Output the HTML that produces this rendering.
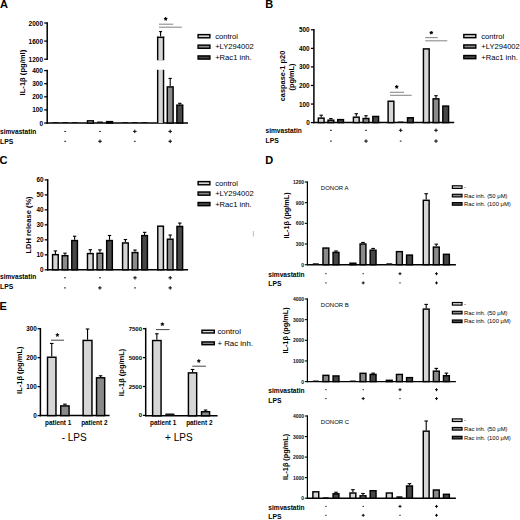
<!DOCTYPE html>
<html><head><meta charset="utf-8"><style>
html,body{margin:0;padding:0;background:#fff;width:520px;height:520px;overflow:hidden}
svg{display:block;font-family:"Liberation Sans", sans-serif}

</style></head><body>
<div id="w"><svg width="520" height="520" viewBox="0 0 520 520">
<rect width="520" height="520" fill="#fff"/>
<text x="0.1" y="8.4" font-size="11" font-weight="bold" fill="#000">A</text>
<line x1="47.2" y1="22.25" x2="47.2" y2="59.95" stroke="#000" stroke-width="1.5"/>
<line x1="44.2" y1="23" x2="47.2" y2="23" stroke="#000" stroke-width="1.27"/>
<text x="43" y="23" font-size="6.5" font-weight="bold" text-anchor="end" fill="#000" dominant-baseline="central">2000</text>
<line x1="44.2" y1="41.1" x2="47.2" y2="41.1" stroke="#000" stroke-width="1.27"/>
<text x="43" y="41.1" font-size="6.5" font-weight="bold" text-anchor="end" fill="#000" dominant-baseline="central">1600</text>
<line x1="44.2" y1="59.2" x2="47.2" y2="59.2" stroke="#000" stroke-width="1.27"/>
<text x="43" y="59.2" font-size="6.5" font-weight="bold" text-anchor="end" fill="#000" dominant-baseline="central">1200</text>
<line x1="47.2" y1="69.85" x2="47.2" y2="123.75" stroke="#000" stroke-width="1.5"/>
<line x1="44.2" y1="70.6" x2="47.2" y2="70.6" stroke="#000" stroke-width="1.27"/>
<text x="43" y="70.6" font-size="6.5" font-weight="bold" text-anchor="end" fill="#000" dominant-baseline="central">400</text>
<line x1="44.2" y1="83.7" x2="47.2" y2="83.7" stroke="#000" stroke-width="1.27"/>
<text x="43" y="83.7" font-size="6.5" font-weight="bold" text-anchor="end" fill="#000" dominant-baseline="central">300</text>
<line x1="44.2" y1="96.8" x2="47.2" y2="96.8" stroke="#000" stroke-width="1.27"/>
<text x="43" y="96.8" font-size="6.5" font-weight="bold" text-anchor="end" fill="#000" dominant-baseline="central">200</text>
<line x1="44.2" y1="109.9" x2="47.2" y2="109.9" stroke="#000" stroke-width="1.27"/>
<text x="43" y="109.9" font-size="6.5" font-weight="bold" text-anchor="end" fill="#000" dominant-baseline="central">100</text>
<line x1="44.2" y1="123" x2="47.2" y2="123" stroke="#000" stroke-width="1.27"/>
<text x="43" y="123" font-size="6.5" font-weight="bold" text-anchor="end" fill="#000" dominant-baseline="central">0</text>
<line x1="46.45" y1="123" x2="188" y2="123" stroke="#000" stroke-width="1.5"/>
<text transform="translate(22.7,72.6) rotate(-90)" font-size="7.6" font-weight="bold" text-anchor="middle" fill="#000" dominant-baseline="central">IL-1β (pg/ml)</text>
<rect x="52.45" y="122" width="6.3" height="1" rx="0.8" fill="#111"/>
<rect x="62.05" y="122" width="6.3" height="1" rx="0.8" fill="#111"/>
<rect x="71.65" y="122" width="6.3" height="1" rx="0.8" fill="#111"/>
<rect x="87.47" y="120.84" width="5.85" height="2.16" fill="#d6d6d6" stroke="#000" stroke-width="1.45"/>
<rect x="96.85" y="121.39" width="6.3" height="1.61" rx="0.8" fill="#111"/>
<rect x="106.67" y="121.63" width="5.85" height="1.37" fill="#474747" stroke="#000" stroke-width="1.45"/>
<rect x="122.05" y="122" width="6.3" height="1" rx="0.8" fill="#111"/>
<rect x="131.65" y="122" width="6.3" height="1" rx="0.8" fill="#111"/>
<rect x="141.25" y="122" width="6.3" height="1" rx="0.8" fill="#111"/>
<line x1="160.6" y1="36.6" x2="160.6" y2="31.6" stroke="#000" stroke-width="1.1"/>
<line x1="159.1" y1="31.6" x2="162.1" y2="31.6" stroke="#000" stroke-width="1.1"/>
<rect x="157.67" y="37.33" width="5.85" height="23.6" fill="#d6d6d6"/>
<rect x="157.67" y="69.8" width="5.85" height="53.2" fill="#d6d6d6"/>
<line x1="157.67" y1="36.6" x2="157.67" y2="60.2" stroke="#000" stroke-width="1.45"/>
<line x1="163.53" y1="36.6" x2="163.53" y2="60.2" stroke="#000" stroke-width="1.45"/>
<line x1="157.67" y1="69.8" x2="157.67" y2="123" stroke="#000" stroke-width="1.45"/>
<line x1="163.53" y1="69.8" x2="163.53" y2="123" stroke="#000" stroke-width="1.45"/>
<line x1="156.95" y1="37.33" x2="164.25" y2="37.33" stroke="#000" stroke-width="1.45"/>
<line x1="170.2" y1="86.2" x2="170.2" y2="78.4" stroke="#000" stroke-width="1.1"/>
<line x1="168.5" y1="78.4" x2="171.9" y2="78.4" stroke="#000" stroke-width="1.1"/>
<rect x="167.27" y="86.92" width="5.85" height="36.07" fill="#8a8a8a" stroke="#000" stroke-width="1.45"/>
<line x1="179.8" y1="104.4" x2="179.8" y2="103.3" stroke="#000" stroke-width="1.1"/>
<line x1="178.1" y1="103.3" x2="181.5" y2="103.3" stroke="#000" stroke-width="1.1"/>
<rect x="176.87" y="105.12" width="5.85" height="17.87" fill="#474747" stroke="#000" stroke-width="1.45"/>
<line x1="159" y1="24.2" x2="173.2" y2="24.2" stroke="#8c8c8c" stroke-width="1.1"/>
<line x1="159" y1="27.2" x2="181.8" y2="27.2" stroke="#8c8c8c" stroke-width="1.1"/>
<line x1="165.7" y1="18.9" x2="165.7" y2="17.1" stroke="#000" stroke-width="1.1"/>
<line x1="165.7" y1="18.9" x2="167.41" y2="18.34" stroke="#000" stroke-width="1.1"/>
<line x1="165.7" y1="18.9" x2="166.76" y2="20.36" stroke="#000" stroke-width="1.1"/>
<line x1="165.7" y1="18.9" x2="164.64" y2="20.36" stroke="#000" stroke-width="1.1"/>
<line x1="165.7" y1="18.9" x2="163.99" y2="18.34" stroke="#000" stroke-width="1.1"/>
<rect x="198.12" y="34.63" width="11.75" height="3.15" fill="#d6d6d6" stroke="#000" stroke-width="1.45"/>
<text x="215.2" y="36.2" font-size="7.6" font-weight="normal" text-anchor="start" fill="#000" dominant-baseline="central">control</text>
<rect x="198.12" y="45.13" width="11.75" height="3.15" fill="#8a8a8a" stroke="#000" stroke-width="1.45"/>
<text x="215.2" y="46.7" font-size="7.6" font-weight="normal" text-anchor="start" fill="#000" dominant-baseline="central">+LY294002</text>
<rect x="198.12" y="55.93" width="11.75" height="3.15" fill="#474747" stroke="#000" stroke-width="1.45"/>
<text x="215.2" y="57.5" font-size="7.6" font-weight="normal" text-anchor="start" fill="#000" dominant-baseline="central">+Rac1 inh.</text>
<text x="0" y="131.2" font-size="6.6" font-weight="bold" text-anchor="start" fill="#000" dominant-baseline="central">simvastatin</text>
<text x="0" y="141.2" font-size="6.8" font-weight="bold" text-anchor="start" fill="#000" dominant-baseline="central">LPS</text>
<line x1="64.3" y1="131.4" x2="66.1" y2="131.4" stroke="#000" stroke-width="0.9"/>
<line x1="64.3" y1="141.3" x2="66.1" y2="141.3" stroke="#000" stroke-width="0.9"/>
<line x1="99.1" y1="131.4" x2="100.9" y2="131.4" stroke="#000" stroke-width="0.9"/>
<line x1="98.2" y1="141.3" x2="101.8" y2="141.3" stroke="#000" stroke-width="0.95"/>
<line x1="100" y1="139.5" x2="100" y2="143.1" stroke="#000" stroke-width="0.95"/>
<line x1="133" y1="131.4" x2="136.6" y2="131.4" stroke="#000" stroke-width="0.95"/>
<line x1="134.8" y1="129.6" x2="134.8" y2="133.2" stroke="#000" stroke-width="0.95"/>
<line x1="133.9" y1="141.3" x2="135.7" y2="141.3" stroke="#000" stroke-width="0.9"/>
<line x1="168.4" y1="131.4" x2="172" y2="131.4" stroke="#000" stroke-width="0.95"/>
<line x1="170.2" y1="129.6" x2="170.2" y2="133.2" stroke="#000" stroke-width="0.95"/>
<line x1="168.4" y1="141.3" x2="172" y2="141.3" stroke="#000" stroke-width="0.95"/>
<line x1="170.2" y1="139.5" x2="170.2" y2="143.1" stroke="#000" stroke-width="0.95"/>
<text x="265.3" y="8.4" font-size="11" font-weight="bold" fill="#000">B</text>
<line x1="313.9" y1="29.05" x2="313.9" y2="123.35" stroke="#000" stroke-width="1.5"/>
<line x1="310.9" y1="29.8" x2="313.9" y2="29.8" stroke="#000" stroke-width="1.27"/>
<text x="309.7" y="29.8" font-size="6.4" font-weight="bold" text-anchor="end" fill="#000" dominant-baseline="central">500</text>
<line x1="310.9" y1="48.36" x2="313.9" y2="48.36" stroke="#000" stroke-width="1.27"/>
<text x="309.7" y="48.36" font-size="6.4" font-weight="bold" text-anchor="end" fill="#000" dominant-baseline="central">400</text>
<line x1="310.9" y1="66.92" x2="313.9" y2="66.92" stroke="#000" stroke-width="1.27"/>
<text x="309.7" y="66.92" font-size="6.4" font-weight="bold" text-anchor="end" fill="#000" dominant-baseline="central">300</text>
<line x1="310.9" y1="85.48" x2="313.9" y2="85.48" stroke="#000" stroke-width="1.27"/>
<text x="309.7" y="85.48" font-size="6.4" font-weight="bold" text-anchor="end" fill="#000" dominant-baseline="central">200</text>
<line x1="310.9" y1="104.04" x2="313.9" y2="104.04" stroke="#000" stroke-width="1.27"/>
<text x="309.7" y="104.04" font-size="6.4" font-weight="bold" text-anchor="end" fill="#000" dominant-baseline="central">100</text>
<line x1="310.9" y1="122.6" x2="313.9" y2="122.6" stroke="#000" stroke-width="1.27"/>
<text x="309.7" y="122.6" font-size="6.4" font-weight="bold" text-anchor="end" fill="#000" dominant-baseline="central">0</text>
<line x1="313.15" y1="122.6" x2="454.2" y2="122.6" stroke="#000" stroke-width="1.5"/>
<text transform="translate(282.4,76) rotate(-90)" font-size="7.4" font-weight="bold" text-anchor="middle" fill="#000" dominant-baseline="central">caspase-1 p20</text>
<text transform="translate(291.7,77) rotate(-90)" font-size="7.4" font-weight="bold" text-anchor="middle" fill="#000" dominant-baseline="central">(pg/mL)</text>
<line x1="321.2" y1="117.4" x2="321.2" y2="115.18" stroke="#000" stroke-width="1.1"/>
<line x1="319.5" y1="115.18" x2="322.9" y2="115.18" stroke="#000" stroke-width="1.1"/>
<rect x="318.32" y="118.13" width="5.75" height="4.47" fill="#d6d6d6" stroke="#000" stroke-width="1.45"/>
<line x1="330.9" y1="119.44" x2="330.9" y2="118.52" stroke="#000" stroke-width="1.1"/>
<line x1="329.2" y1="118.52" x2="332.6" y2="118.52" stroke="#000" stroke-width="1.1"/>
<rect x="328.02" y="120.17" width="5.75" height="2.43" fill="#8a8a8a" stroke="#000" stroke-width="1.45"/>
<rect x="337.72" y="119.61" width="5.75" height="2.99" fill="#474747" stroke="#000" stroke-width="1.45"/>
<line x1="356.3" y1="116.48" x2="356.3" y2="113.69" stroke="#000" stroke-width="1.1"/>
<line x1="354.6" y1="113.69" x2="358" y2="113.69" stroke="#000" stroke-width="1.1"/>
<rect x="353.43" y="117.2" width="5.75" height="5.4" fill="#d6d6d6" stroke="#000" stroke-width="1.45"/>
<line x1="366" y1="117.77" x2="366" y2="115.73" stroke="#000" stroke-width="1.1"/>
<line x1="364.3" y1="115.73" x2="367.7" y2="115.73" stroke="#000" stroke-width="1.1"/>
<rect x="363.12" y="118.5" width="5.75" height="4.1" fill="#8a8a8a" stroke="#000" stroke-width="1.45"/>
<rect x="372.82" y="116.46" width="5.75" height="6.14" fill="#474747" stroke="#000" stroke-width="1.45"/>
<rect x="388.12" y="101.24" width="5.75" height="21.36" fill="#d6d6d6" stroke="#000" stroke-width="1.45"/>
<rect x="397.6" y="121.6" width="6.2" height="1" rx="0.8" fill="#111"/>
<rect x="407.52" y="117.76" width="5.75" height="4.84" fill="#474747" stroke="#000" stroke-width="1.45"/>
<rect x="423.43" y="48.9" width="5.75" height="73.7" fill="#d6d6d6" stroke="#000" stroke-width="1.45"/>
<line x1="436" y1="98.1" x2="436" y2="95.69" stroke="#000" stroke-width="1.1"/>
<line x1="434.3" y1="95.69" x2="437.7" y2="95.69" stroke="#000" stroke-width="1.1"/>
<rect x="433.12" y="98.83" width="5.75" height="23.77" fill="#8a8a8a" stroke="#000" stroke-width="1.45"/>
<rect x="442.82" y="106.06" width="5.75" height="16.54" fill="#474747" stroke="#000" stroke-width="1.45"/>
<line x1="390" y1="92.3" x2="404" y2="92.3" stroke="#8c8c8c" stroke-width="1.1"/>
<line x1="390" y1="95.3" x2="411.7" y2="95.3" stroke="#8c8c8c" stroke-width="1.1"/>
<line x1="396.7" y1="86.9" x2="396.7" y2="85.1" stroke="#000" stroke-width="1.1"/>
<line x1="396.7" y1="86.9" x2="398.41" y2="86.34" stroke="#000" stroke-width="1.1"/>
<line x1="396.7" y1="86.9" x2="397.76" y2="88.36" stroke="#000" stroke-width="1.1"/>
<line x1="396.7" y1="86.9" x2="395.64" y2="88.36" stroke="#000" stroke-width="1.1"/>
<line x1="396.7" y1="86.9" x2="394.99" y2="86.34" stroke="#000" stroke-width="1.1"/>
<line x1="425.2" y1="37.6" x2="437.7" y2="37.6" stroke="#8c8c8c" stroke-width="1.1"/>
<line x1="425.2" y1="40.8" x2="447.3" y2="40.8" stroke="#8c8c8c" stroke-width="1.1"/>
<line x1="431.3" y1="32.7" x2="431.3" y2="30.9" stroke="#000" stroke-width="1.1"/>
<line x1="431.3" y1="32.7" x2="433.01" y2="32.14" stroke="#000" stroke-width="1.1"/>
<line x1="431.3" y1="32.7" x2="432.36" y2="34.16" stroke="#000" stroke-width="1.1"/>
<line x1="431.3" y1="32.7" x2="430.24" y2="34.16" stroke="#000" stroke-width="1.1"/>
<line x1="431.3" y1="32.7" x2="429.59" y2="32.14" stroke="#000" stroke-width="1.1"/>
<rect x="463.83" y="34.53" width="11.95" height="3.15" fill="#d6d6d6" stroke="#000" stroke-width="1.45"/>
<text x="481.3" y="36.1" font-size="7.6" font-weight="normal" text-anchor="start" fill="#000" dominant-baseline="central">control</text>
<rect x="463.83" y="44.93" width="11.95" height="3.15" fill="#8a8a8a" stroke="#000" stroke-width="1.45"/>
<text x="481.3" y="46.5" font-size="7.6" font-weight="normal" text-anchor="start" fill="#000" dominant-baseline="central">+LY294002</text>
<rect x="463.83" y="55.53" width="11.95" height="3.15" fill="#474747" stroke="#000" stroke-width="1.45"/>
<text x="481.3" y="57.1" font-size="7.6" font-weight="normal" text-anchor="start" fill="#000" dominant-baseline="central">+Rac1 inh.</text>
<text x="265.5" y="130.2" font-size="6.6" font-weight="bold" text-anchor="start" fill="#000" dominant-baseline="central">simvastatin</text>
<text x="265.5" y="140.8" font-size="6.8" font-weight="bold" text-anchor="start" fill="#000" dominant-baseline="central">LPS</text>
<line x1="330" y1="130.3" x2="331.8" y2="130.3" stroke="#000" stroke-width="0.9"/>
<line x1="330" y1="141.1" x2="331.8" y2="141.1" stroke="#000" stroke-width="0.9"/>
<line x1="365.1" y1="130.3" x2="366.9" y2="130.3" stroke="#000" stroke-width="0.9"/>
<line x1="364.2" y1="141.1" x2="367.8" y2="141.1" stroke="#000" stroke-width="0.95"/>
<line x1="366" y1="139.3" x2="366" y2="142.9" stroke="#000" stroke-width="0.95"/>
<line x1="398.9" y1="130.3" x2="402.5" y2="130.3" stroke="#000" stroke-width="0.95"/>
<line x1="400.7" y1="128.5" x2="400.7" y2="132.1" stroke="#000" stroke-width="0.95"/>
<line x1="399.8" y1="141.1" x2="401.6" y2="141.1" stroke="#000" stroke-width="0.9"/>
<line x1="434.2" y1="130.3" x2="437.8" y2="130.3" stroke="#000" stroke-width="0.95"/>
<line x1="436" y1="128.5" x2="436" y2="132.1" stroke="#000" stroke-width="0.95"/>
<line x1="434.2" y1="141.1" x2="437.8" y2="141.1" stroke="#000" stroke-width="0.95"/>
<line x1="436" y1="139.3" x2="436" y2="142.9" stroke="#000" stroke-width="0.95"/>
<text x="-0.5" y="163.8" font-size="11" font-weight="bold" fill="#000">C</text>
<line x1="47.7" y1="179.15" x2="47.7" y2="270.55" stroke="#000" stroke-width="1.5"/>
<line x1="44.7" y1="179.9" x2="47.7" y2="179.9" stroke="#000" stroke-width="1.27"/>
<text x="43.5" y="179.9" font-size="6.4" font-weight="bold" text-anchor="end" fill="#000" dominant-baseline="central">60</text>
<line x1="44.7" y1="194.89" x2="47.7" y2="194.89" stroke="#000" stroke-width="1.27"/>
<text x="43.5" y="194.89" font-size="6.4" font-weight="bold" text-anchor="end" fill="#000" dominant-baseline="central">50</text>
<line x1="44.7" y1="209.87" x2="47.7" y2="209.87" stroke="#000" stroke-width="1.27"/>
<text x="43.5" y="209.87" font-size="6.4" font-weight="bold" text-anchor="end" fill="#000" dominant-baseline="central">40</text>
<line x1="44.7" y1="224.85" x2="47.7" y2="224.85" stroke="#000" stroke-width="1.27"/>
<text x="43.5" y="224.85" font-size="6.4" font-weight="bold" text-anchor="end" fill="#000" dominant-baseline="central">30</text>
<line x1="44.7" y1="239.83" x2="47.7" y2="239.83" stroke="#000" stroke-width="1.27"/>
<text x="43.5" y="239.83" font-size="6.4" font-weight="bold" text-anchor="end" fill="#000" dominant-baseline="central">20</text>
<line x1="44.7" y1="254.82" x2="47.7" y2="254.82" stroke="#000" stroke-width="1.27"/>
<text x="43.5" y="254.82" font-size="6.4" font-weight="bold" text-anchor="end" fill="#000" dominant-baseline="central">10</text>
<line x1="44.7" y1="269.8" x2="47.7" y2="269.8" stroke="#000" stroke-width="1.27"/>
<text x="43.5" y="269.8" font-size="6.4" font-weight="bold" text-anchor="end" fill="#000" dominant-baseline="central">0</text>
<line x1="46.95" y1="269.8" x2="188.1" y2="269.8" stroke="#000" stroke-width="1.5"/>
<text transform="translate(28.5,225) rotate(-90)" font-size="7.5" font-weight="bold" text-anchor="middle" fill="#000" dominant-baseline="central">LDH release (%)</text>
<line x1="55.4" y1="253.92" x2="55.4" y2="250.92" stroke="#000" stroke-width="1.1"/>
<line x1="53.7" y1="250.92" x2="57.1" y2="250.92" stroke="#000" stroke-width="1.1"/>
<rect x="52.58" y="254.64" width="5.65" height="15.16" fill="#d6d6d6" stroke="#000" stroke-width="1.45"/>
<line x1="65" y1="254.97" x2="65" y2="253.17" stroke="#000" stroke-width="1.1"/>
<line x1="63.3" y1="253.17" x2="66.7" y2="253.17" stroke="#000" stroke-width="1.1"/>
<rect x="62.18" y="255.69" width="5.65" height="14.11" fill="#8a8a8a" stroke="#000" stroke-width="1.45"/>
<line x1="74.6" y1="239.83" x2="74.6" y2="236.24" stroke="#000" stroke-width="1.1"/>
<line x1="72.9" y1="236.24" x2="76.3" y2="236.24" stroke="#000" stroke-width="1.1"/>
<rect x="71.77" y="240.56" width="5.65" height="29.24" fill="#474747" stroke="#000" stroke-width="1.45"/>
<line x1="90.3" y1="252.87" x2="90.3" y2="249.72" stroke="#000" stroke-width="1.1"/>
<line x1="88.6" y1="249.72" x2="92" y2="249.72" stroke="#000" stroke-width="1.1"/>
<rect x="87.48" y="253.59" width="5.65" height="16.21" fill="#d6d6d6" stroke="#000" stroke-width="1.45"/>
<line x1="99.9" y1="252.57" x2="99.9" y2="249.87" stroke="#000" stroke-width="1.1"/>
<line x1="98.2" y1="249.87" x2="101.6" y2="249.87" stroke="#000" stroke-width="1.1"/>
<rect x="97.08" y="253.29" width="5.65" height="16.51" fill="#8a8a8a" stroke="#000" stroke-width="1.45"/>
<line x1="109.5" y1="239.83" x2="109.5" y2="235.49" stroke="#000" stroke-width="1.1"/>
<line x1="107.8" y1="235.49" x2="111.2" y2="235.49" stroke="#000" stroke-width="1.1"/>
<rect x="106.67" y="240.56" width="5.65" height="29.24" fill="#474747" stroke="#000" stroke-width="1.45"/>
<line x1="125.4" y1="242.23" x2="125.4" y2="239.53" stroke="#000" stroke-width="1.1"/>
<line x1="123.7" y1="239.53" x2="127.1" y2="239.53" stroke="#000" stroke-width="1.1"/>
<rect x="122.58" y="242.96" width="5.65" height="26.84" fill="#d6d6d6" stroke="#000" stroke-width="1.45"/>
<line x1="135" y1="251.82" x2="135" y2="250.02" stroke="#000" stroke-width="1.1"/>
<line x1="133.3" y1="250.02" x2="136.7" y2="250.02" stroke="#000" stroke-width="1.1"/>
<rect x="132.17" y="252.55" width="5.65" height="17.25" fill="#8a8a8a" stroke="#000" stroke-width="1.45"/>
<line x1="144.6" y1="234.89" x2="144.6" y2="232.34" stroke="#000" stroke-width="1.1"/>
<line x1="142.9" y1="232.34" x2="146.3" y2="232.34" stroke="#000" stroke-width="1.1"/>
<rect x="141.77" y="235.61" width="5.65" height="34.19" fill="#474747" stroke="#000" stroke-width="1.45"/>
<rect x="157.77" y="226.18" width="5.65" height="43.62" fill="#d6d6d6" stroke="#000" stroke-width="1.45"/>
<line x1="170.2" y1="238.49" x2="170.2" y2="235.04" stroke="#000" stroke-width="1.1"/>
<line x1="168.5" y1="235.04" x2="171.9" y2="235.04" stroke="#000" stroke-width="1.1"/>
<rect x="167.37" y="239.21" width="5.65" height="30.59" fill="#8a8a8a" stroke="#000" stroke-width="1.45"/>
<line x1="179.8" y1="225.75" x2="179.8" y2="223.05" stroke="#000" stroke-width="1.1"/>
<line x1="178.1" y1="223.05" x2="181.5" y2="223.05" stroke="#000" stroke-width="1.1"/>
<rect x="176.97" y="226.47" width="5.65" height="43.33" fill="#474747" stroke="#000" stroke-width="1.45"/>
<rect x="198.12" y="181.62" width="11.75" height="3.15" fill="#d6d6d6" stroke="#000" stroke-width="1.45"/>
<text x="215.2" y="183.2" font-size="7.6" font-weight="normal" text-anchor="start" fill="#000" dominant-baseline="central">control</text>
<rect x="198.12" y="192.02" width="11.75" height="3.15" fill="#8a8a8a" stroke="#000" stroke-width="1.45"/>
<text x="215.2" y="193.6" font-size="7.6" font-weight="normal" text-anchor="start" fill="#000" dominant-baseline="central">+LY294002</text>
<rect x="198.12" y="202.52" width="11.75" height="3.15" fill="#474747" stroke="#000" stroke-width="1.45"/>
<text x="215.2" y="204.1" font-size="7.6" font-weight="normal" text-anchor="start" fill="#000" dominant-baseline="central">+Rac1 inh.</text>
<text x="0" y="276.3" font-size="6.6" font-weight="bold" text-anchor="start" fill="#000" dominant-baseline="central">simvastatin</text>
<text x="0" y="286.5" font-size="6.8" font-weight="bold" text-anchor="start" fill="#000" dominant-baseline="central">LPS</text>
<line x1="64.1" y1="277.8" x2="65.9" y2="277.8" stroke="#000" stroke-width="0.9"/>
<line x1="64.1" y1="287.9" x2="65.9" y2="287.9" stroke="#000" stroke-width="0.9"/>
<line x1="99" y1="277.8" x2="100.8" y2="277.8" stroke="#000" stroke-width="0.9"/>
<line x1="98.1" y1="287.9" x2="101.7" y2="287.9" stroke="#000" stroke-width="0.95"/>
<line x1="99.9" y1="286.1" x2="99.9" y2="289.7" stroke="#000" stroke-width="0.95"/>
<line x1="133.2" y1="277.8" x2="136.8" y2="277.8" stroke="#000" stroke-width="0.95"/>
<line x1="135" y1="276" x2="135" y2="279.6" stroke="#000" stroke-width="0.95"/>
<line x1="134.1" y1="287.9" x2="135.9" y2="287.9" stroke="#000" stroke-width="0.9"/>
<line x1="168.4" y1="277.8" x2="172" y2="277.8" stroke="#000" stroke-width="0.95"/>
<line x1="170.2" y1="276" x2="170.2" y2="279.6" stroke="#000" stroke-width="0.95"/>
<line x1="168.4" y1="287.9" x2="172" y2="287.9" stroke="#000" stroke-width="0.95"/>
<line x1="170.2" y1="286.1" x2="170.2" y2="289.7" stroke="#000" stroke-width="0.95"/>
<text x="265.3" y="164.4" font-size="11" font-weight="bold" fill="#000">D</text>
<line x1="307.4" y1="181.38" x2="307.4" y2="265.32" stroke="#000" stroke-width="1.25"/>
<line x1="304.8" y1="182" x2="307.4" y2="182" stroke="#000" stroke-width="1.06"/>
<text x="304.1" y="182" font-size="5" font-weight="bold" text-anchor="end" fill="#111" dominant-baseline="central">1200</text>
<line x1="304.8" y1="202.68" x2="307.4" y2="202.68" stroke="#000" stroke-width="1.06"/>
<text x="304.1" y="202.68" font-size="5" font-weight="bold" text-anchor="end" fill="#111" dominant-baseline="central">900</text>
<line x1="304.8" y1="223.35" x2="307.4" y2="223.35" stroke="#000" stroke-width="1.06"/>
<text x="304.1" y="223.35" font-size="5" font-weight="bold" text-anchor="end" fill="#111" dominant-baseline="central">600</text>
<line x1="304.8" y1="244.02" x2="307.4" y2="244.02" stroke="#000" stroke-width="1.06"/>
<text x="304.1" y="244.02" font-size="5" font-weight="bold" text-anchor="end" fill="#111" dominant-baseline="central">300</text>
<line x1="304.8" y1="264.7" x2="307.4" y2="264.7" stroke="#000" stroke-width="1.06"/>
<text x="304.1" y="264.7" font-size="5" font-weight="bold" text-anchor="end" fill="#111" dominant-baseline="central">0</text>
<line x1="306.8" y1="264.7" x2="455.9" y2="264.7" stroke="#000" stroke-width="1.4"/>
<text transform="translate(286.5,215.4) rotate(-90)" font-size="7.3" font-weight="bold" text-anchor="middle" fill="#000" dominant-baseline="central">IL-1β (pg/mL)</text>
<text x="320.8" y="187.8" font-size="6" font-weight="normal" text-anchor="start" fill="#000" dominant-baseline="central">DONOR A</text>
<rect x="312.65" y="263.16" width="6.3" height="1.54" rx="0.8" fill="#111"/>
<rect x="322.98" y="248.06" width="5.85" height="16.64" fill="#8a8a8a" stroke="#000" stroke-width="1.45"/>
<line x1="336" y1="251.67" x2="336" y2="250.92" stroke="#000" stroke-width="1.1"/>
<line x1="334.2" y1="250.92" x2="337.8" y2="250.92" stroke="#000" stroke-width="1.1"/>
<rect x="333.08" y="252.4" width="5.85" height="12.3" fill="#474747" stroke="#000" stroke-width="1.45"/>
<rect x="349.98" y="263.22" width="5.85" height="1.48" fill="#d6d6d6" stroke="#000" stroke-width="1.45"/>
<line x1="363" y1="243.27" x2="363" y2="242.44" stroke="#000" stroke-width="1.1"/>
<line x1="361.2" y1="242.44" x2="364.8" y2="242.44" stroke="#000" stroke-width="1.1"/>
<rect x="360.08" y="243.99" width="5.85" height="20.71" fill="#8a8a8a" stroke="#000" stroke-width="1.45"/>
<line x1="373.1" y1="249.47" x2="373.1" y2="248.44" stroke="#000" stroke-width="1.1"/>
<line x1="371.3" y1="248.44" x2="374.9" y2="248.44" stroke="#000" stroke-width="1.1"/>
<rect x="370.18" y="250.19" width="5.85" height="14.51" fill="#474747" stroke="#000" stroke-width="1.45"/>
<rect x="386.15" y="263.16" width="6.3" height="1.54" rx="0.8" fill="#111"/>
<rect x="396.48" y="251.64" width="5.85" height="13.06" fill="#8a8a8a" stroke="#000" stroke-width="1.45"/>
<rect x="406.58" y="255.09" width="5.85" height="9.61" fill="#474747" stroke="#000" stroke-width="1.45"/>
<line x1="426.2" y1="199.57" x2="426.2" y2="193.72" stroke="#000" stroke-width="1.1"/>
<line x1="424.4" y1="193.72" x2="428" y2="193.72" stroke="#000" stroke-width="1.1"/>
<rect x="423.28" y="200.3" width="5.85" height="64.4" fill="#d6d6d6" stroke="#000" stroke-width="1.45"/>
<line x1="436.3" y1="246.37" x2="436.3" y2="244.16" stroke="#000" stroke-width="1.1"/>
<line x1="434.5" y1="244.16" x2="438.1" y2="244.16" stroke="#000" stroke-width="1.1"/>
<rect x="433.38" y="247.09" width="5.85" height="17.61" fill="#8a8a8a" stroke="#000" stroke-width="1.45"/>
<rect x="443.48" y="254.33" width="5.85" height="10.37" fill="#474747" stroke="#000" stroke-width="1.45"/>
<rect x="452.4" y="185.8" width="9.6" height="2.6" fill="#d6d6d6" stroke="#000" stroke-width="1.2"/>
<text x="463.9" y="187.1" font-size="5.9" font-weight="normal" text-anchor="start" fill="#000" dominant-baseline="central">-</text>
<rect x="452.4" y="194.3" width="9.6" height="2.6" fill="#8a8a8a" stroke="#000" stroke-width="1.2"/>
<text x="463.9" y="195.6" font-size="5.9" font-weight="normal" text-anchor="start" fill="#000" dominant-baseline="central">Rac inh. (50 μM)</text>
<rect x="452.4" y="202.6" width="9.6" height="2.6" fill="#474747" stroke="#000" stroke-width="1.2"/>
<text x="463.9" y="203.9" font-size="5.9" font-weight="normal" text-anchor="start" fill="#000" dominant-baseline="central">Rac inh. (100 μM)</text>
<text x="268.3" y="274" font-size="6.6" font-weight="bold" text-anchor="start" fill="#000" dominant-baseline="central">simvastatin</text>
<text x="268.3" y="283.6" font-size="6.8" font-weight="bold" text-anchor="start" fill="#000" dominant-baseline="central">LPS</text>
<line x1="325.2" y1="273.7" x2="326.6" y2="273.7" stroke="#000" stroke-width="0.9"/>
<line x1="325.2" y1="282.9" x2="326.6" y2="282.9" stroke="#000" stroke-width="0.9"/>
<line x1="362.5" y1="273.7" x2="363.9" y2="273.7" stroke="#000" stroke-width="0.9"/>
<line x1="361.71" y1="282.9" x2="364.69" y2="282.9" stroke="#000" stroke-width="0.95"/>
<line x1="363.2" y1="281.41" x2="363.2" y2="284.39" stroke="#000" stroke-width="0.95"/>
<line x1="398.51" y1="273.7" x2="401.49" y2="273.7" stroke="#000" stroke-width="0.95"/>
<line x1="400" y1="272.21" x2="400" y2="275.19" stroke="#000" stroke-width="0.95"/>
<line x1="399.3" y1="282.9" x2="400.7" y2="282.9" stroke="#000" stroke-width="0.9"/>
<line x1="435.01" y1="273.7" x2="437.99" y2="273.7" stroke="#000" stroke-width="0.95"/>
<line x1="436.5" y1="272.21" x2="436.5" y2="275.19" stroke="#000" stroke-width="0.95"/>
<line x1="435.01" y1="282.9" x2="437.99" y2="282.9" stroke="#000" stroke-width="0.95"/>
<line x1="436.5" y1="281.41" x2="436.5" y2="284.39" stroke="#000" stroke-width="0.95"/>
<line x1="307.4" y1="298.38" x2="307.4" y2="382.23" stroke="#000" stroke-width="1.25"/>
<line x1="304.8" y1="299" x2="307.4" y2="299" stroke="#000" stroke-width="1.06"/>
<text x="304.1" y="299" font-size="5" font-weight="bold" text-anchor="end" fill="#111" dominant-baseline="central">4000</text>
<line x1="304.8" y1="319.65" x2="307.4" y2="319.65" stroke="#000" stroke-width="1.06"/>
<text x="304.1" y="319.65" font-size="5" font-weight="bold" text-anchor="end" fill="#111" dominant-baseline="central">3000</text>
<line x1="304.8" y1="340.3" x2="307.4" y2="340.3" stroke="#000" stroke-width="1.06"/>
<text x="304.1" y="340.3" font-size="5" font-weight="bold" text-anchor="end" fill="#111" dominant-baseline="central">2000</text>
<line x1="304.8" y1="360.95" x2="307.4" y2="360.95" stroke="#000" stroke-width="1.06"/>
<text x="304.1" y="360.95" font-size="5" font-weight="bold" text-anchor="end" fill="#111" dominant-baseline="central">1000</text>
<line x1="304.8" y1="381.6" x2="307.4" y2="381.6" stroke="#000" stroke-width="1.06"/>
<text x="304.1" y="381.6" font-size="5" font-weight="bold" text-anchor="end" fill="#111" dominant-baseline="central">0</text>
<line x1="306.8" y1="381.6" x2="455.9" y2="381.6" stroke="#000" stroke-width="1.4"/>
<text transform="translate(285.3,330.5) rotate(-90)" font-size="7.3" font-weight="bold" text-anchor="middle" fill="#000" dominant-baseline="central">IL-1β (pg/mL)</text>
<text x="320.8" y="304.8" font-size="6" font-weight="normal" text-anchor="start" fill="#000" dominant-baseline="central">DONOR B</text>
<rect x="312.65" y="380.6" width="6.3" height="1" rx="0.8" fill="#111"/>
<rect x="322.98" y="375.35" width="5.85" height="6.25" fill="#8a8a8a" stroke="#000" stroke-width="1.45"/>
<rect x="333.08" y="375.94" width="5.85" height="5.66" fill="#474747" stroke="#000" stroke-width="1.45"/>
<rect x="349.75" y="380.6" width="6.3" height="1" rx="0.8" fill="#111"/>
<rect x="360.08" y="373.32" width="5.85" height="8.28" fill="#8a8a8a" stroke="#000" stroke-width="1.45"/>
<line x1="373.1" y1="373.71" x2="373.1" y2="373.13" stroke="#000" stroke-width="1.1"/>
<line x1="371.3" y1="373.13" x2="374.9" y2="373.13" stroke="#000" stroke-width="1.1"/>
<rect x="370.18" y="374.44" width="5.85" height="7.16" fill="#474747" stroke="#000" stroke-width="1.45"/>
<rect x="386.38" y="380.32" width="5.85" height="1.28" fill="#d6d6d6" stroke="#000" stroke-width="1.45"/>
<rect x="396.48" y="374.44" width="5.85" height="7.16" fill="#8a8a8a" stroke="#000" stroke-width="1.45"/>
<rect x="406.58" y="377.64" width="5.85" height="3.96" fill="#474747" stroke="#000" stroke-width="1.45"/>
<line x1="426.2" y1="308.38" x2="426.2" y2="304.39" stroke="#000" stroke-width="1.1"/>
<line x1="424.4" y1="304.39" x2="428" y2="304.39" stroke="#000" stroke-width="1.1"/>
<rect x="423.28" y="309.1" width="5.85" height="72.5" fill="#d6d6d6" stroke="#000" stroke-width="1.45"/>
<line x1="436.3" y1="370.43" x2="436.3" y2="368.38" stroke="#000" stroke-width="1.1"/>
<line x1="434.5" y1="368.38" x2="438.1" y2="368.38" stroke="#000" stroke-width="1.1"/>
<rect x="433.38" y="371.15" width="5.85" height="10.45" fill="#8a8a8a" stroke="#000" stroke-width="1.45"/>
<line x1="446.4" y1="375.01" x2="446.4" y2="373.11" stroke="#000" stroke-width="1.1"/>
<line x1="444.6" y1="373.11" x2="448.2" y2="373.11" stroke="#000" stroke-width="1.1"/>
<rect x="443.48" y="375.74" width="5.85" height="5.86" fill="#474747" stroke="#000" stroke-width="1.45"/>
<rect x="452.4" y="302.5" width="9.6" height="2.6" fill="#d6d6d6" stroke="#000" stroke-width="1.2"/>
<text x="463.9" y="303.8" font-size="5.9" font-weight="normal" text-anchor="start" fill="#000" dominant-baseline="central">-</text>
<rect x="452.4" y="311.3" width="9.6" height="2.6" fill="#8a8a8a" stroke="#000" stroke-width="1.2"/>
<text x="463.9" y="312.6" font-size="5.9" font-weight="normal" text-anchor="start" fill="#000" dominant-baseline="central">Rac inh. (50 μM)</text>
<rect x="452.4" y="320" width="9.6" height="2.6" fill="#474747" stroke="#000" stroke-width="1.2"/>
<text x="463.9" y="321.3" font-size="5.9" font-weight="normal" text-anchor="start" fill="#000" dominant-baseline="central">Rac inh. (100 μM)</text>
<text x="268.3" y="390.6" font-size="6.6" font-weight="bold" text-anchor="start" fill="#000" dominant-baseline="central">simvastatin</text>
<text x="268.3" y="400.4" font-size="6.8" font-weight="bold" text-anchor="start" fill="#000" dominant-baseline="central">LPS</text>
<line x1="325.2" y1="389.7" x2="326.6" y2="389.7" stroke="#000" stroke-width="0.9"/>
<line x1="325.2" y1="398.6" x2="326.6" y2="398.6" stroke="#000" stroke-width="0.9"/>
<line x1="362.5" y1="389.7" x2="363.9" y2="389.7" stroke="#000" stroke-width="0.9"/>
<line x1="361.71" y1="398.6" x2="364.69" y2="398.6" stroke="#000" stroke-width="0.95"/>
<line x1="363.2" y1="397.11" x2="363.2" y2="400.09" stroke="#000" stroke-width="0.95"/>
<line x1="398.51" y1="389.7" x2="401.49" y2="389.7" stroke="#000" stroke-width="0.95"/>
<line x1="400" y1="388.21" x2="400" y2="391.19" stroke="#000" stroke-width="0.95"/>
<line x1="399.3" y1="398.6" x2="400.7" y2="398.6" stroke="#000" stroke-width="0.9"/>
<line x1="435.01" y1="389.7" x2="437.99" y2="389.7" stroke="#000" stroke-width="0.95"/>
<line x1="436.5" y1="388.21" x2="436.5" y2="391.19" stroke="#000" stroke-width="0.95"/>
<line x1="435.01" y1="398.6" x2="437.99" y2="398.6" stroke="#000" stroke-width="0.95"/>
<line x1="436.5" y1="397.11" x2="436.5" y2="400.09" stroke="#000" stroke-width="0.95"/>
<line x1="307.4" y1="415.38" x2="307.4" y2="498.82" stroke="#000" stroke-width="1.25"/>
<line x1="304.8" y1="416" x2="307.4" y2="416" stroke="#000" stroke-width="1.06"/>
<text x="304.1" y="416" font-size="5" font-weight="bold" text-anchor="end" fill="#111" dominant-baseline="central">4000</text>
<line x1="304.8" y1="436.55" x2="307.4" y2="436.55" stroke="#000" stroke-width="1.06"/>
<text x="304.1" y="436.55" font-size="5" font-weight="bold" text-anchor="end" fill="#111" dominant-baseline="central">3000</text>
<line x1="304.8" y1="457.1" x2="307.4" y2="457.1" stroke="#000" stroke-width="1.06"/>
<text x="304.1" y="457.1" font-size="5" font-weight="bold" text-anchor="end" fill="#111" dominant-baseline="central">2000</text>
<line x1="304.8" y1="477.65" x2="307.4" y2="477.65" stroke="#000" stroke-width="1.06"/>
<text x="304.1" y="477.65" font-size="5" font-weight="bold" text-anchor="end" fill="#111" dominant-baseline="central">1000</text>
<line x1="304.8" y1="498.2" x2="307.4" y2="498.2" stroke="#000" stroke-width="1.06"/>
<text x="304.1" y="498.2" font-size="5" font-weight="bold" text-anchor="end" fill="#111" dominant-baseline="central">0</text>
<line x1="306.8" y1="498.2" x2="455.9" y2="498.2" stroke="#000" stroke-width="1.4"/>
<text transform="translate(285.3,457) rotate(-90)" font-size="7.3" font-weight="bold" text-anchor="middle" fill="#000" dominant-baseline="central">IL-1β (pg/mL)</text>
<text x="320.8" y="421.8" font-size="6" font-weight="normal" text-anchor="start" fill="#000" dominant-baseline="central">DONOR C</text>
<rect x="312.88" y="491.81" width="5.85" height="6.39" fill="#d6d6d6" stroke="#000" stroke-width="1.45"/>
<rect x="322.75" y="497.2" width="6.3" height="1" rx="0.8" fill="#111"/>
<line x1="336" y1="493.08" x2="336" y2="492.24" stroke="#000" stroke-width="1.1"/>
<line x1="334.2" y1="492.24" x2="337.8" y2="492.24" stroke="#000" stroke-width="1.1"/>
<rect x="333.08" y="493.81" width="5.85" height="4.39" fill="#474747" stroke="#000" stroke-width="1.45"/>
<line x1="352.9" y1="492.28" x2="352.9" y2="489.67" stroke="#000" stroke-width="1.1"/>
<line x1="351.1" y1="489.67" x2="354.7" y2="489.67" stroke="#000" stroke-width="1.1"/>
<rect x="349.98" y="493.01" width="5.85" height="5.19" fill="#d6d6d6" stroke="#000" stroke-width="1.45"/>
<line x1="363" y1="495.1" x2="363" y2="493.49" stroke="#000" stroke-width="1.1"/>
<line x1="361.2" y1="493.49" x2="364.8" y2="493.49" stroke="#000" stroke-width="1.1"/>
<rect x="360.08" y="495.82" width="5.85" height="2.38" fill="#8a8a8a" stroke="#000" stroke-width="1.45"/>
<rect x="370.18" y="490.71" width="5.85" height="7.49" fill="#474747" stroke="#000" stroke-width="1.45"/>
<rect x="386.38" y="493.01" width="5.85" height="5.19" fill="#d6d6d6" stroke="#000" stroke-width="1.45"/>
<rect x="396.25" y="496.3" width="6.3" height="1.9" rx="0.8" fill="#111"/>
<line x1="409.5" y1="485.25" x2="409.5" y2="483.67" stroke="#000" stroke-width="1.1"/>
<line x1="407.7" y1="483.67" x2="411.3" y2="483.67" stroke="#000" stroke-width="1.1"/>
<rect x="406.58" y="485.98" width="5.85" height="12.22" fill="#474747" stroke="#000" stroke-width="1.45"/>
<line x1="426.2" y1="430.43" x2="426.2" y2="421.01" stroke="#000" stroke-width="1.1"/>
<line x1="424.4" y1="421.01" x2="428" y2="421.01" stroke="#000" stroke-width="1.1"/>
<rect x="423.28" y="431.15" width="5.85" height="67.05" fill="#d6d6d6" stroke="#000" stroke-width="1.45"/>
<rect x="433.38" y="490.01" width="5.85" height="8.19" fill="#8a8a8a" stroke="#000" stroke-width="1.45"/>
<rect x="443.48" y="494.32" width="5.85" height="3.88" fill="#474747" stroke="#000" stroke-width="1.45"/>
<rect x="452.4" y="418.9" width="9.6" height="2.6" fill="#d6d6d6" stroke="#000" stroke-width="1.2"/>
<text x="463.9" y="420.2" font-size="5.9" font-weight="normal" text-anchor="start" fill="#000" dominant-baseline="central">-</text>
<rect x="452.4" y="427.5" width="9.6" height="2.6" fill="#8a8a8a" stroke="#000" stroke-width="1.2"/>
<text x="463.9" y="428.8" font-size="5.9" font-weight="normal" text-anchor="start" fill="#000" dominant-baseline="central">Rac inh. (50 μM)</text>
<rect x="452.4" y="436.3" width="9.6" height="2.6" fill="#474747" stroke="#000" stroke-width="1.2"/>
<text x="463.9" y="437.6" font-size="5.9" font-weight="normal" text-anchor="start" fill="#000" dominant-baseline="central">Rac inh. (100 μM)</text>
<text x="268.3" y="507.2" font-size="6.6" font-weight="bold" text-anchor="start" fill="#000" dominant-baseline="central">simvastatin</text>
<text x="268.3" y="516.6" font-size="6.8" font-weight="bold" text-anchor="start" fill="#000" dominant-baseline="central">LPS</text>
<line x1="325.2" y1="506.4" x2="326.6" y2="506.4" stroke="#000" stroke-width="0.9"/>
<line x1="325.2" y1="515.3" x2="326.6" y2="515.3" stroke="#000" stroke-width="0.9"/>
<line x1="362.5" y1="506.4" x2="363.9" y2="506.4" stroke="#000" stroke-width="0.9"/>
<line x1="361.71" y1="515.3" x2="364.69" y2="515.3" stroke="#000" stroke-width="0.95"/>
<line x1="363.2" y1="513.81" x2="363.2" y2="516.79" stroke="#000" stroke-width="0.95"/>
<line x1="398.51" y1="506.4" x2="401.49" y2="506.4" stroke="#000" stroke-width="0.95"/>
<line x1="400" y1="504.91" x2="400" y2="507.89" stroke="#000" stroke-width="0.95"/>
<line x1="399.3" y1="515.3" x2="400.7" y2="515.3" stroke="#000" stroke-width="0.9"/>
<line x1="435.01" y1="506.4" x2="437.99" y2="506.4" stroke="#000" stroke-width="0.95"/>
<line x1="436.5" y1="504.91" x2="436.5" y2="507.89" stroke="#000" stroke-width="0.95"/>
<line x1="435.01" y1="515.3" x2="437.99" y2="515.3" stroke="#000" stroke-width="0.95"/>
<line x1="436.5" y1="513.81" x2="436.5" y2="516.79" stroke="#000" stroke-width="0.95"/>
<text x="-0.6" y="310" font-size="11" font-weight="bold" fill="#000">E</text>
<line x1="40.4" y1="327.95" x2="40.4" y2="416.35" stroke="#000" stroke-width="1.5"/>
<line x1="37.6" y1="328.7" x2="40.4" y2="328.7" stroke="#000" stroke-width="1.27"/>
<text x="36.8" y="328.7" font-size="6.3" font-weight="bold" text-anchor="end" fill="#000" dominant-baseline="central">300</text>
<line x1="37.6" y1="357.67" x2="40.4" y2="357.67" stroke="#000" stroke-width="1.27"/>
<text x="36.8" y="357.67" font-size="6.3" font-weight="bold" text-anchor="end" fill="#000" dominant-baseline="central">200</text>
<line x1="37.6" y1="386.63" x2="40.4" y2="386.63" stroke="#000" stroke-width="1.27"/>
<text x="36.8" y="386.63" font-size="6.3" font-weight="bold" text-anchor="end" fill="#000" dominant-baseline="central">100</text>
<line x1="37.6" y1="415.6" x2="40.4" y2="415.6" stroke="#000" stroke-width="1.27"/>
<text x="36.8" y="415.6" font-size="6.3" font-weight="bold" text-anchor="end" fill="#000" dominant-baseline="central">0</text>
<line x1="39.65" y1="415.6" x2="109.6" y2="415.6" stroke="#000" stroke-width="1.5"/>
<text transform="translate(19.6,370.2) rotate(-90)" font-size="7.5" font-weight="bold" text-anchor="middle" fill="#000" dominant-baseline="central">IL-1β (pg/mL)</text>
<line x1="51.75" y1="356.51" x2="51.75" y2="343.47" stroke="#000" stroke-width="1.1"/>
<line x1="49.95" y1="343.47" x2="53.55" y2="343.47" stroke="#000" stroke-width="1.1"/>
<rect x="47.52" y="357.23" width="8.45" height="58.37" fill="#d6d6d6" stroke="#000" stroke-width="1.45"/>
<line x1="64.9" y1="405.17" x2="64.9" y2="404.16" stroke="#000" stroke-width="1.1"/>
<line x1="63.1" y1="404.16" x2="66.7" y2="404.16" stroke="#000" stroke-width="1.1"/>
<rect x="60.73" y="405.9" width="8.35" height="9.7" fill="#8a8a8a" stroke="#000" stroke-width="1.45"/>
<line x1="87.55" y1="339.71" x2="87.55" y2="328.99" stroke="#000" stroke-width="1.1"/>
<line x1="85.75" y1="328.99" x2="89.35" y2="328.99" stroke="#000" stroke-width="1.1"/>
<rect x="83.12" y="340.43" width="8.85" height="75.17" fill="#d6d6d6" stroke="#000" stroke-width="1.45"/>
<line x1="100.6" y1="377.07" x2="100.6" y2="375.77" stroke="#000" stroke-width="1.1"/>
<line x1="98.8" y1="375.77" x2="102.4" y2="375.77" stroke="#000" stroke-width="1.1"/>
<rect x="96.52" y="377.8" width="8.15" height="37.8" fill="#8a8a8a" stroke="#000" stroke-width="1.45"/>
<line x1="51" y1="340.2" x2="64" y2="340.2" stroke="#444" stroke-width="1"/>
<line x1="57.4" y1="335" x2="57.4" y2="333.2" stroke="#000" stroke-width="1.1"/>
<line x1="57.4" y1="335" x2="59.11" y2="334.44" stroke="#000" stroke-width="1.1"/>
<line x1="57.4" y1="335" x2="58.46" y2="336.46" stroke="#000" stroke-width="1.1"/>
<line x1="57.4" y1="335" x2="56.34" y2="336.46" stroke="#000" stroke-width="1.1"/>
<line x1="57.4" y1="335" x2="55.69" y2="334.44" stroke="#000" stroke-width="1.1"/>
<text x="58.2" y="422.7" font-size="6.4" font-weight="bold" text-anchor="middle" fill="#000" dominant-baseline="central">patient 1</text>
<text x="94.3" y="422.7" font-size="6.4" font-weight="bold" text-anchor="middle" fill="#000" dominant-baseline="central">patient 2</text>
<text x="74.2" y="437.1" font-size="10" font-weight="normal" text-anchor="middle" fill="#000" dominant-baseline="central">- LPS</text>
<line x1="145.7" y1="327.85" x2="145.7" y2="416.15" stroke="#000" stroke-width="1.5"/>
<line x1="142.9" y1="328.7" x2="145.7" y2="328.7" stroke="#000" stroke-width="1.27"/>
<text x="142" y="328.7" font-size="6" font-weight="bold" text-anchor="end" fill="#000" dominant-baseline="central">7500</text>
<line x1="142.9" y1="357.6" x2="145.7" y2="357.6" stroke="#000" stroke-width="1.27"/>
<text x="142" y="357.6" font-size="6" font-weight="bold" text-anchor="end" fill="#000" dominant-baseline="central">5000</text>
<line x1="142.9" y1="386.5" x2="145.7" y2="386.5" stroke="#000" stroke-width="1.27"/>
<text x="142" y="386.5" font-size="6" font-weight="bold" text-anchor="end" fill="#000" dominant-baseline="central">2500</text>
<line x1="142.9" y1="415.4" x2="145.7" y2="415.4" stroke="#000" stroke-width="1.27"/>
<text x="142" y="415.4" font-size="6" font-weight="bold" text-anchor="end" fill="#000" dominant-baseline="central">0</text>
<line x1="144.95" y1="415.8" x2="217.6" y2="415.8" stroke="#000" stroke-width="1.5"/>
<text transform="translate(121.2,372.4) rotate(-90)" font-size="7.5" font-weight="bold" text-anchor="middle" fill="#000" dominant-baseline="central">IL-1β (pg/mL)</text>
<line x1="156.85" y1="339.8" x2="156.85" y2="333.81" stroke="#000" stroke-width="1.1"/>
<line x1="155.05" y1="333.81" x2="158.65" y2="333.81" stroke="#000" stroke-width="1.1"/>
<rect x="152.62" y="340.53" width="8.45" height="75.27" fill="#d6d6d6" stroke="#000" stroke-width="1.45"/>
<rect x="165.3" y="413.57" width="9.2" height="2.23" rx="0.8" fill="#111"/>
<line x1="192.55" y1="372.13" x2="192.55" y2="369.48" stroke="#000" stroke-width="1.1"/>
<line x1="190.75" y1="369.48" x2="194.35" y2="369.48" stroke="#000" stroke-width="1.1"/>
<rect x="188.42" y="372.86" width="8.25" height="42.94" fill="#d6d6d6" stroke="#000" stroke-width="1.45"/>
<line x1="205.55" y1="411.01" x2="205.55" y2="410.05" stroke="#000" stroke-width="1.1"/>
<line x1="203.75" y1="410.05" x2="207.35" y2="410.05" stroke="#000" stroke-width="1.1"/>
<rect x="201.53" y="411.74" width="8.05" height="4.06" fill="#8a8a8a" stroke="#000" stroke-width="1.45"/>
<line x1="156" y1="329.6" x2="169.5" y2="329.6" stroke="#444" stroke-width="1"/>
<line x1="162.4" y1="324.2" x2="162.4" y2="322.4" stroke="#000" stroke-width="1.1"/>
<line x1="162.4" y1="324.2" x2="164.11" y2="323.64" stroke="#000" stroke-width="1.1"/>
<line x1="162.4" y1="324.2" x2="163.46" y2="325.66" stroke="#000" stroke-width="1.1"/>
<line x1="162.4" y1="324.2" x2="161.34" y2="325.66" stroke="#000" stroke-width="1.1"/>
<line x1="162.4" y1="324.2" x2="160.69" y2="323.64" stroke="#000" stroke-width="1.1"/>
<line x1="192.3" y1="366.2" x2="205.9" y2="366.2" stroke="#444" stroke-width="1"/>
<line x1="198.8" y1="361" x2="198.8" y2="359.2" stroke="#000" stroke-width="1.1"/>
<line x1="198.8" y1="361" x2="200.51" y2="360.44" stroke="#000" stroke-width="1.1"/>
<line x1="198.8" y1="361" x2="199.86" y2="362.46" stroke="#000" stroke-width="1.1"/>
<line x1="198.8" y1="361" x2="197.74" y2="362.46" stroke="#000" stroke-width="1.1"/>
<line x1="198.8" y1="361" x2="197.09" y2="360.44" stroke="#000" stroke-width="1.1"/>
<text x="163.2" y="422.7" font-size="6.4" font-weight="bold" text-anchor="middle" fill="#000" dominant-baseline="central">patient 1</text>
<text x="199.3" y="422.7" font-size="6.4" font-weight="bold" text-anchor="middle" fill="#000" dominant-baseline="central">patient 2</text>
<text x="178.8" y="437" font-size="10" font-weight="normal" text-anchor="middle" fill="#000" dominant-baseline="central">+ LPS</text>
<rect x="201.97" y="330.23" width="12.3" height="2.75" fill="#d6d6d6" stroke="#000" stroke-width="1.45"/>
<text x="217.4" y="331.6" font-size="7.85" font-weight="normal" text-anchor="start" fill="#000" dominant-baseline="central">control</text>
<rect x="201.97" y="341.93" width="12.3" height="2.75" fill="#8a8a8a" stroke="#000" stroke-width="1.45"/>
<text x="217.4" y="343.3" font-size="7.85" font-weight="normal" text-anchor="start" fill="#000" dominant-baseline="central">+ Rac inh.</text>
<line x1="253.4" y1="231" x2="253.4" y2="236.5" stroke="#aaa" stroke-width="0.8"/>
</svg></div></body></html>
